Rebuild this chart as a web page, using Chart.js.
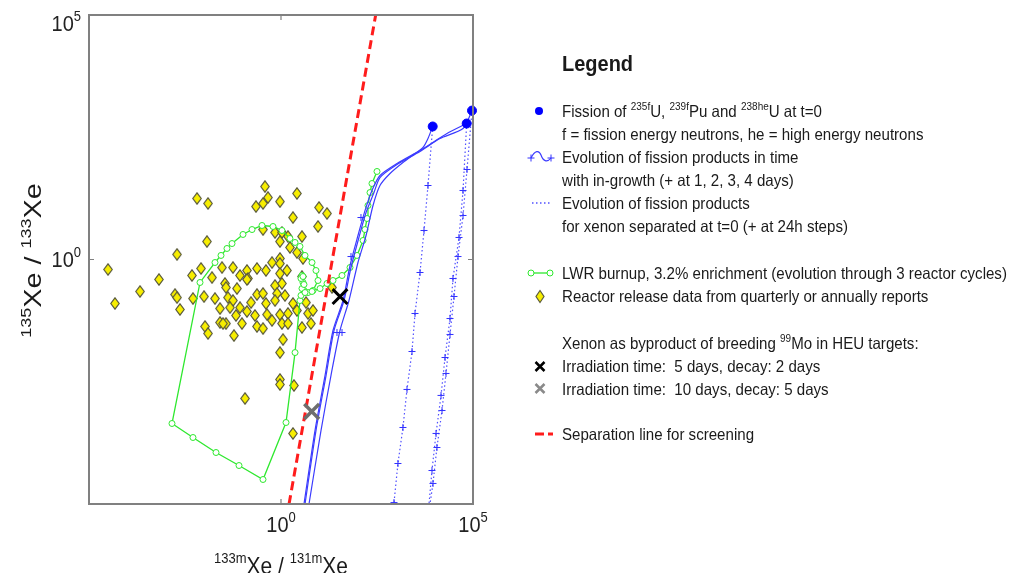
<!DOCTYPE html>
<html><head><meta charset="utf-8">
<script src="https://cdn.jsdelivr.net/npm/chart.js@4"></script>
<style>
html,body{margin:0;padding:0;background:#fff;width:1013px;height:573px;overflow:hidden}
#wrap{position:relative;width:1013px;height:573px}
#c{position:absolute;left:0;top:0}
#lg{position:absolute;left:0;top:0;pointer-events:none}
#lg text{font-family:"Liberation Sans",Arial,Helvetica,sans-serif;font-size:15.1px;fill:#1a1a1a;white-space:pre}
</style></head>
<body><div id="wrap"><canvas id="c" width="1013" height="573"></canvas>
<svg id="lg" width="1013" height="573" xmlns="http://www.w3.org/2000/svg">
  <text x="562" y="71.5" transform="matrix(1 0 0 1.1 0 -7.15)" style="font-size:20px;font-weight:bold">Legend</text>
  <circle cx="539" cy="111" r="4" fill="#0000ff"/>
  <text x="562" y="117" transform="matrix(1 0 0 1.12 0 -14.04)">Fission of <tspan dy="-6" style="font-size:10px">235f</tspan><tspan dy="6">U, </tspan><tspan dy="-6" style="font-size:10px">239f</tspan><tspan dy="6">Pu and </tspan><tspan dy="-6" style="font-size:10px">238he</tspan><tspan dy="6">U at t=0</tspan></text>
  <text x="562" y="140" transform="matrix(1 0 0 1.12 0 -16.8)">f = fission energy neutrons, he = high energy neutrons</text>
  <path d="M531,158 C535,150 539,150 541,155 C543,161 547,163 551,158" fill="none" stroke="#3b3bff" stroke-width="1.2"/>
  <path d="M527.5,158 h7 M531,154.5 v7 M547.5,158 h7 M551,154.5 v7" stroke="#3030ff" stroke-width="1"/>
  <text x="562" y="163" transform="matrix(1 0 0 1.12 0 -19.56)">Evolution of fission products in time</text>
  <text x="562" y="186" transform="matrix(1 0 0 1.12 0 -22.32)">with in-growth (+ at 1, 2, 3, 4 days)</text>
  <line x1="532" y1="203" x2="552" y2="203" stroke="#5050ff" stroke-width="1.5" stroke-dasharray="1.5,2.5"/>
  <text x="562" y="209" transform="matrix(1 0 0 1.12 0 -25.08)">Evolution of fission products</text>
  <text x="562" y="232" transform="matrix(1 0 0 1.12 0 -27.84)">for xenon separated at t=0 (+ at 24h steps)</text>
  <line x1="531" y1="273" x2="550" y2="273" stroke="#2ee82e" stroke-width="1.3"/>
  <circle cx="531" cy="273" r="3" fill="#fff" stroke="#2ee82e" stroke-width="1"/>
  <circle cx="550" cy="273" r="3" fill="#fff" stroke="#2ee82e" stroke-width="1"/>
  <text x="562" y="279" transform="matrix(1 0 0 1.12 0 -33.48)">LWR burnup, 3.2% enrichment (evolution through 3 reactor cycles)</text>
  <path d="M540,290.5 L544,296.5 L540,302.5 L536,296.5 Z" fill="#f7ee00" stroke="#5b5b3c" stroke-width="1.2"/>
  <text x="562" y="302" transform="matrix(1 0 0 1.12 0 -36.24)">Reactor release data from quarterly or annually reports</text>
  <text x="562" y="349" transform="matrix(1 0 0 1.12 0 -41.88)">Xenon as byproduct of breeding <tspan dy="-6" style="font-size:10px">99</tspan><tspan dy="6">Mo in HEU targets:</tspan></text>
  <path d="M535.5,362 L544.5,371 M544.5,362 L535.5,371" stroke="#000" stroke-width="2.5"/>
  <text x="562" y="372" transform="matrix(1 0 0 1.12 0 -44.64)">Irradiation time:  5 days, decay: 2 days</text>
  <path d="M535.5,384 L544.5,393 M544.5,384 L535.5,393" stroke="#8a8a8a" stroke-width="2.5"/>
  <text x="562" y="395" transform="matrix(1 0 0 1.12 0 -47.4)">Irradiation time:  10 days, decay: 5 days</text>
  <line x1="535" y1="434" x2="553" y2="434" stroke="#ff1c1c" stroke-width="3" stroke-dasharray="9,4"/>
  <text x="562" y="440" transform="matrix(1 0 0 1.12 0 -52.8)">Separation line for screening</text>
</svg></div>
<script>
// ---------- data ----------
const reactorX = [0.383,0.458,0.34,0.223,6.5e-3,1.26e-2,0.94,2.61,9.77,15.8,2.05,9.2,0.34,0.698,1.06,1.52,3.52,0.94,1.18e-2,1.71,2.61,3.74,1.96e-3,0.583,0.94,0.94,1.43,3.52,2.91e-2,5.62e-2,0.130,0.237,0.406,0.94,8.26e-3,4.81e-3,1.6e-2,8.55e-2,0.138,3.13e-5,6.65e-4,2.13e-4,4.75e-5,1.74e-3,1.96e-3,2.34e-3,5.1e-3,9.9e-3,1.91e-2,3.48e-2,3.7e-2,7.14e-2,4.17e-2,5.62e-2,0.237,0.34,0.698,1.06,0.787,0.698,0.166,0.406,8.55e-2,0.130,0.21,6.73e-2,9.64e-2,2.58e-2,2.58e-2,3.7e-2,1.05e-2,1.26e-2,5.97e-2,0.237,0.34,0.432,0.94,1.06,1.52,2.05,2.61,5.05,6.04,6.81,1.13,21.3,3.52,1.52,0.583,0.94,0.94,0.94,2.18,0.1155,2.05,1.27,4.48,4.7e-2,3.09e-2,0.130];
const reactorY = [31.1,18.5,14.0,12.1,17.7,14.0,15.3,22.4,11.6,8.73,7.22,4.73,4.1,3.57,3.57,2.95,2.95,2.33,2.33,1.76,1.39,1.05,1.27,0.868,1.05,0.828,0.596,0.449,0.686,0.686,0.596,0.655,0.596,0.517,0.655,0.471,0.428,0.471,0.409,0.625,0.39,0.222,0.126,0.192,0.167,0.095,0.159,0.175,0.159,0.323,0.268,0.255,0.167,0.145,0.192,0.202,0.294,0.323,0.202,0.145,0.132,0.126,0.104,0.0865,0.0716,0.0716,0.0491,0.0995,0.0515,0.0491,0.0427,0.0307,0.0279,0.0427,0.0388,0.075,0.075,0.0491,0.0787,0.126,0.0906,0.0787,0.0491,0.0906,0.0231,0.268,0.0407,0.0491,0.0566,0.0125,3.52e-3,2.78e-3,2.65e-3,1.44e-3,2.77e-4,0.184,0.132,0.104,0.0491,0.39];

const lwrX = [3.52,3.97,5.05,6.81,9.2,8.15,6.42,4.22,3.12,2.32,1.71,1.06,0.619,0.32,0.176,0.1024,0.053,0.0392,0.0274,0.0191,7.78e-3,1.45e-3,5.1e-3,2.03e-2,8.06e-2,0.34,1.35,2.32,3.12,3.32,3.52,3.74,3.32,3.74,3.97,4.22,6.42,10.4,15.8,22.6,38.8,62.7,95.3,137,154,174,184,208,234,316];
const lwrY = [0.471,0.232,0.211,0.232,0.372,0.596,0.868,1.21,1.85,2.23,2.69,3.92,4.73,4.96,4.1,3.25,2.12,1.68,1.21,0.868,0.339,4.43e-4,2.29e-4,1.13e-4,6.12e-5,3.17e-5,4.64e-4,0.0125,0.145,0.184,0.255,0.339,0.409,0.449,0.308,0.211,0.222,0.255,0.323,0.372,0.471,0.686,1.21,2.45,4.1,6.89,12.7,23.4,35.8,63.1];

const fissionX = [8.92e3, 6.85e4, 9.42e4];
const fissionY = [525, 604, 1110];

const ingrowthU235X = [8.92e3,6.73e3,4.99e3,3.09e3,1.5e3,690,378,249,164,101,59,34.4,20.0,11.0,5.36];
const ingrowthU235Y = [525,298,195,147,96.3,57.4,32.6,12.7,3.1,0.868,0.145,0.0353,4.24e-3,3.18e-4,1e-5];
const ingrowthPu239X = [6.85e4,2.1e4,4.17e3,1.05e3,378,234,154,101,62.7,41.2,22.6,14.0,7.68,3.97];
const ingrowthPu239Y = [604,377,169,91.9,52.2,25.8,10.0,3.1,0.754,0.145,0.0353,4.24e-3,3.18e-4,1e-5];
const ingrowthU238X = [9.42e4,5.5e4,1.38e4,4.17e3,1.05e3,378,264,164,107,66.5,43.7,24,14.9,8.15,4.22];
const ingrowthU238Y = [1110,477,298,162,87.7,47.5,23.4,9.15,2.82,0.686,0.145,0.0353,4.24e-3,3.18e-4,1e-5];
const ingrowthDayX = [121, 66.5, 28.7, 38.8];
const ingrowthDayY = [7.22, 1.15, 0.0321, 0.0321];

const separatedU235X = [8.92e3,6.73e3,5.3e3,4.17e3,3.09e3,2.58e3,1.91e3,1.5e3,1.11e3,877];
const separatedU235Y = [525,32.6,3.92,0.542,0.0787,0.01314,2.2e-3,3.67e-4,6.73e-5,1.07e-5];
const separatedPu239X = [6.85e4,5.5e4,4.32e4,3.01e4,2.52e4,1.87e4,1.47e4,1.09e4,8.55e3,7.15e3];
const separatedPu239Y = [604,25.8,2.82,0.409,0.0621,9.9e-3,1.66e-3,2.77e-4,4.84e-5,1e-5];
const separatedU238X = [9.42e4,6.98e4,5.5e4,4.07e4,3.2e4,2.52e4,1.98e4,1.56e4,1.15e4,9.08e3,7.59e3];
const separatedU238Y = [1110,69.3,7.94,1.15,0.175,0.0293,4.67e-3,8.17e-4,1.43e-4,2.63e-5,1e-5];

const mo5dX = [34.4], mo5dY = [0.175];
const mo10dX = [6.3], mo10dY = [7.8e-4];

const screeningX = [1.62, 292];
const screeningY = [1e-5, 1e5];

const xTickValues = [1, 1e5], xTickExp = ['0', '5'];
const yTickValues = [1, 1e5], yTickExp = ['0', '5'];
const axisMin = 1e-5, axisMax = 1e5;

// ---------- build ----------
const zip = (xs, ys) => xs.map((v, i) => ({x: v, y: ys[i]}));
function makeDiamond(){
  const c = document.createElement('canvas'); c.width = 10; c.height = 13;
  const g = c.getContext('2d');
  g.beginPath(); g.moveTo(5,0.8); g.lineTo(9.2,6.5); g.lineTo(5,12.2); g.lineTo(0.8,6.5); g.closePath();
  g.fillStyle = '#f7ee00'; g.fill(); g.strokeStyle = '#5b5b3c'; g.lineWidth = 1.2; g.stroke();
  return c;
}
const diamond = makeDiamond();
const FONT = '"Liberation Sans", Arial, Helvetica, sans-serif';
const blue = '#3b3bff', dotBlue = '#5050ff', green = '#2ee82e';

const ingrowthLine = (xs, ys) => ({data: zip(xs, ys), showLine: true, borderColor: blue, borderWidth: 1.2, pointRadius: 0, tension: 0.25});
const separatedLine = (xs, ys) => ({data: zip(xs, ys), showLine: true, borderColor: dotBlue, borderWidth: 1.2, borderDash: [1.5, 2.5],
  pointStyle: 'cross', pointBorderColor: '#3030ff', pointBorderWidth: 1,
  pointRadius: c => (c.dataIndex === 0 || c.raw.y <= axisMin) ? 0 : 3.5});

function drawRich(ctx, parts, x, y, align){
  let w = 0;
  parts.forEach(p => { ctx.font = p.font; p.w = ctx.measureText(p.t).width; w += p.w; });
  let cx = align === 'right' ? x - w : align === 'center' ? x - w / 2 : x;
  parts.forEach(p => { ctx.font = p.font; ctx.fillText(p.t, cx, y - (p.up || 0)); cx += p.w; });
}
function tickParts(e){ return [{t:'10', font:'20px ' + FONT}, {t:e, font:'13px ' + FONT, up:9}]; }

const framePlugin = {
  id: 'frame',
  afterDatasetsDraw(chart){
    const {ctx, chartArea: a, scales: {x, y}} = chart;
    ctx.save();
    ctx.strokeStyle = '#808080'; ctx.lineWidth = 2;
    ctx.strokeRect(a.left, a.top, a.right - a.left, a.bottom - a.top);
    ctx.lineWidth = 1.2; ctx.beginPath();
    xTickValues.forEach(v => { const px = x.getPixelForValue(v); ctx.moveTo(px, a.bottom); ctx.lineTo(px, a.bottom - 5); ctx.moveTo(px, a.top); ctx.lineTo(px, a.top + 5); });
    yTickValues.forEach(v => { const py = y.getPixelForValue(v); ctx.moveTo(a.left, py); ctx.lineTo(a.left + 5, py); ctx.moveTo(a.right, py); ctx.lineTo(a.right - 5, py); });
    ctx.stroke();
    ctx.fillStyle = '#222'; ctx.textBaseline = 'alphabetic';
    xTickValues.forEach((v, i) => {
      ctx.save(); ctx.translate(0, a.bottom + 28); ctx.scale(1, 1.1);
      drawRich(ctx, tickParts(xTickExp[i]), x.getPixelForValue(v), 0, 'center'); ctx.restore();
    });
    yTickValues.forEach((v, i) => {
      ctx.save(); ctx.translate(0, Math.max(y.getPixelForValue(v) + 7, a.top + 16)); ctx.scale(1, 1.1);
      drawRich(ctx, tickParts(yTickExp[i]), a.left - 8, 0, 'right'); ctx.restore();
    });
    // axis titles
    ctx.fillStyle = '#1a1a1a';
    const XF = '21px ' + FONT, SF = '13px ' + FONT;
    ctx.save(); ctx.translate(0, 574); ctx.scale(1, 1.12);
    drawRich(ctx, [{t:'133m', font:SF, up:10}, {t:'Xe', font:XF}, {t:' / ', font:XF}, {t:'131m', font:SF, up:10}, {t:'Xe', font:XF}], (a.left + a.right) / 2, 0, 'center');
    ctx.restore();
    ctx.translate(41, (a.top + a.bottom) / 2 + 1); ctx.rotate(-Math.PI / 2); ctx.scale(1.2, 1);
    const YF = '24px ' + FONT, YS = '15px ' + FONT;
    drawRich(ctx, [{t:'135', font:YS, up:10}, {t:'Xe', font:YF}, {t:' / ', font:YF}, {t:'133', font:YS, up:10}, {t:'Xe', font:YF}], 0, 0, 'center');
    ctx.restore();
  }
};

new Chart(document.getElementById('c'), {
  type: 'scatter',
  data: { datasets: [
    {data: zip(mo5dX, mo5dY), pointStyle: 'crossRot', pointRadius: 10.5, pointBorderWidth: 3, borderColor: '#000', pointBorderColor: '#000', clip: false},
    {data: zip(mo10dX, mo10dY), pointStyle: 'crossRot', pointRadius: 10.5, pointBorderWidth: 3.5, borderColor: '#6e6e6e', pointBorderColor: '#6e6e6e', clip: false},
    {data: zip(fissionX, fissionY), pointStyle: 'circle', pointRadius: 4.5, pointBackgroundColor: '#0000ff', pointBorderColor: '#0000ff', clip: false},
    {data: zip(ingrowthDayX, ingrowthDayY), pointStyle: 'cross', pointRadius: 3.5, pointBorderWidth: 1, pointBorderColor: '#3030ff'},
    ingrowthLine(ingrowthU235X, ingrowthU235Y),
    ingrowthLine(ingrowthPu239X, ingrowthPu239Y),
    ingrowthLine(ingrowthU238X, ingrowthU238Y),
    separatedLine(separatedU235X, separatedU235Y),
    separatedLine(separatedPu239X, separatedPu239Y),
    separatedLine(separatedU238X, separatedU238Y),
    {data: zip(screeningX, screeningY), showLine: true, borderColor: '#ff1c1c', borderWidth: 3, borderDash: [9, 5], pointRadius: 0},
    {data: zip(lwrX, lwrY), showLine: true, borderColor: green, borderWidth: 1.3, pointStyle: 'circle', pointRadius: 3,
      pointBackgroundColor: '#fff', pointBorderColor: green, pointBorderWidth: 1},
    {data: zip(reactorX, reactorY), pointStyle: diamond, pointRadius: 5}
  ]},
  options: {
    responsive: false, animation: false, devicePixelRatio: 1,
    layout: {padding: {left: 89, top: 15, right: 540, bottom: 69}},
    plugins: {legend: {display: false}, tooltip: {enabled: false}},
    events: [],
    scales: {
      x: {type: 'logarithmic', min: axisMin, max: axisMax, display: false},
      y: {type: 'logarithmic', min: axisMin, max: axisMax, display: false}
    }
  },
  plugins: [framePlugin]
});
</script></body></html>
